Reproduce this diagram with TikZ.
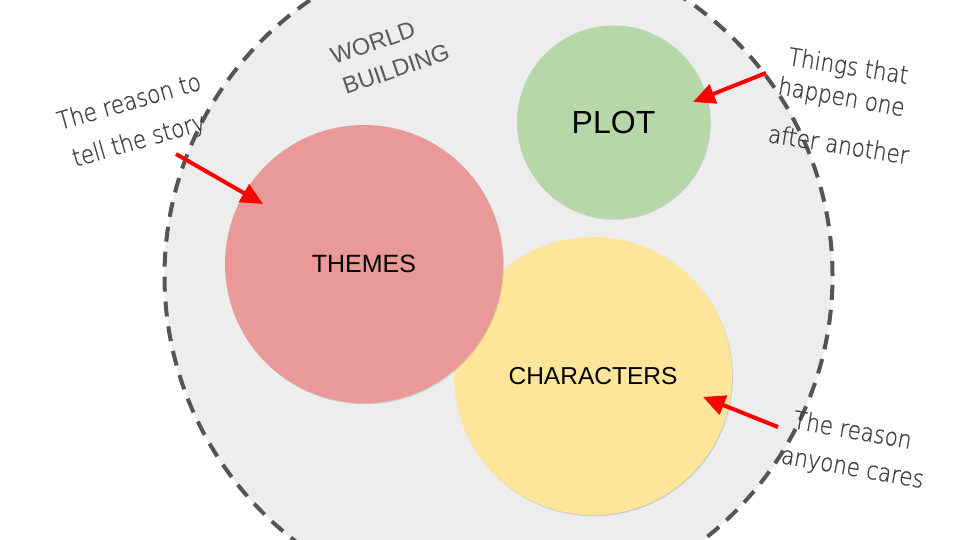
\documentclass[tikz,border=0pt]{standalone}
\usepackage{fontspec}
\setmainfont{Liberation Sans}
\newfontfamily\hand[FakeBold=0.8]{DejaVu Sans ExtraLight}
\usetikzlibrary{arrows.meta,shadows}
\definecolor{worldfill}{HTML}{EDEDED}
\definecolor{dashgray}{HTML}{555555}
\definecolor{themefill}{HTML}{E99A98}
\definecolor{plotfill}{HTML}{B6D7A8}
\definecolor{charfill}{HTML}{FFE599}
\definecolor{handgray}{HTML}{3C3C3C}
\definecolor{worldtext}{HTML}{5A5A5A}
\tikzset{
  bubble/.style={circle, inner sep=0pt, text=black,
    drop shadow={shadow xshift=0.8pt, shadow yshift=-1.2pt, opacity=0.25, fill=black!60}},
  handtext/.style={text=handgray, inner sep=0pt, font=\hand\fontsize{21.5}{25}\selectfont},
  worldlbl/.style={text=worldtext, inner sep=0pt, font=\fontsize{23.5}{27}\selectfont},
  redarrow/.style={draw=red, line width=4pt, -{Triangle[length=22pt,width=20pt]}}
}
\begin{document}
\begin{tikzpicture}[x=1pt,y=-1pt]
\useasboundingbox (0,0) rectangle (960,540);
\clip (0,0) rectangle (960,540);
\fill[white] (0,0) rectangle (960,540);
% world building circle
\node[circle, inner sep=0pt, minimum size=668pt, fill=worldfill, draw=dashgray,
      line width=4pt, dash pattern=on 15pt off 10pt] (world) at (498.5,276) {};
% bubbles
\node[bubble, minimum size=278pt, fill=charfill,
      font=\fontsize{24.5}{28}\selectfont] (characters) at (593,376) {CHARACTERS};
\node[bubble, minimum size=278pt, fill=themefill,
      font=\fontsize{25}{29}\selectfont] (themes) at (364,264) {THEMES};
\node[bubble, minimum size=193pt, fill=plotfill,
      font=\fontsize{32}{36}\selectfont] (plot) at (613.5,122) {PLOT};
% world building label
\node[worldlbl, anchor=base west, rotate=19] (wl1) at (334,65) {WORLD};
\node[worldlbl, anchor=base west, rotate=19] (wl2) at (346,95) {BUILDING};
% annotations
\node[handtext, anchor=base west, rotate=16, yscale=1.15] (n1a) at (60,130) {The reason to};
\node[handtext, anchor=base west, rotate=16, yscale=1.15] (n1b) at (75,167) {tell the story};
\node[handtext, anchor=base west, rotate=-9, yscale=1.15] (n2a) at (787,65) {Things that};
\node[handtext, anchor=base west, rotate=-10, yscale=1.15] (n2b) at (777,94) {happen one};
\node[handtext, anchor=base west, rotate=-9, yscale=1.15] (n2c) at (767,142) {after another};
\node[handtext, anchor=base west, rotate=-10, yscale=1.15] (n3a) at (792,428) {The reason};
\node[handtext, anchor=base west, rotate=-10, yscale=1.15] (n3b) at (780,463) {anyone cares};
% arrows
\coordinate (a1s) at (176,154);
\coordinate (a1t) at (263,204);
\coordinate (a2s) at (766,73);
\coordinate (a2t) at (693,102);
\coordinate (a3s) at (778,427);
\coordinate (a3t) at (703,397);
\draw[redarrow] (a1s) -- (a1t);
\draw[redarrow] (a2s) -- (a2t);
\draw[redarrow] (a3s) -- (a3t);
\end{tikzpicture}
\end{document}
